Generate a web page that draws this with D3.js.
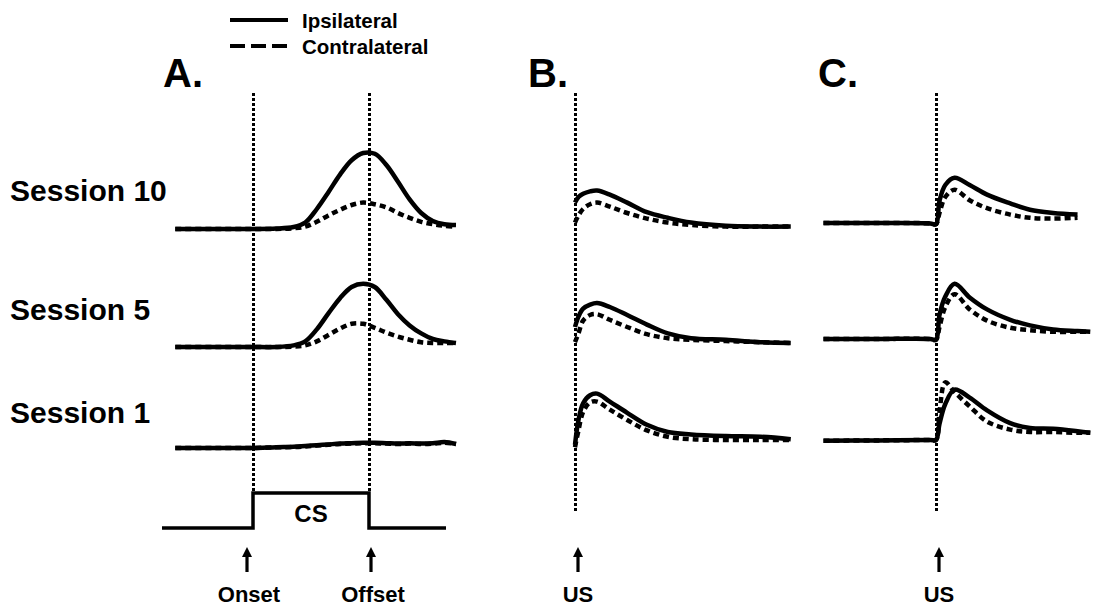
<!DOCTYPE html>
<html><head><meta charset="utf-8">
<script src="https://cdn.jsdelivr.net/npm/d3@7"></script>
<style>
html,body{margin:0;padding:0;background:#fff;}
text{font-family:"Liberation Sans",Arial,sans-serif;font-weight:bold;fill:#000;}
</style></head>
<body>
<svg id="chart" width="1096" height="610"></svg>
<script>
// ---------- data ----------
const sessions = ["Session 10", "Session 5", "Session 1"];
const seriesNames = ["Ipsilateral", "Contralateral"];
const panelLabels = ["A.", "B.", "C."];

// Panel A : time relative to CS (0 = onset, 1 = offset)
const tA = [-0.67, -0.4, -0.2, 0, 0.2, 0.35, 0.45, 0.55, 0.65, 0.75, 0.85, 0.95, 1.05, 1.15, 1.25, 1.35, 1.45, 1.55, 1.65, 1.75];
const aIpsi10   = [0,0,0,0,0.005,0.025,0.08,0.25,0.46,0.68,0.86,0.95,0.94,0.80,0.59,0.37,0.20,0.10,0.06,0.05];
const aContra10 = [0,0,0,0,0,0.01,0.03,0.09,0.17,0.24,0.30,0.33,0.31,0.27,0.20,0.14,0.09,0.06,0.04,0.03];
const aIpsi5    = [0,0,0,0,0,0.02,0.07,0.22,0.42,0.61,0.75,0.79,0.75,0.59,0.41,0.27,0.17,0.10,0.07,0.05];
const aContra5  = [0,0,0,0,0,0.005,0.02,0.07,0.15,0.23,0.29,0.29,0.24,0.18,0.13,0.09,0.06,0.05,0.05,0.05];
const aIpsi1    = [0,0,0,0,0.01,0.015,0.025,0.035,0.045,0.055,0.06,0.065,0.065,0.06,0.055,0.06,0.055,0.06,0.075,0.05];
const aContra1  = [0,0,0,0,0.008,0.012,0.02,0.03,0.04,0.05,0.055,0.06,0.06,0.055,0.05,0.055,0.05,0.055,0.065,0.05];

// Panel B : time relative to US
const tB = [0, 0.03, 0.07, 0.13, 0.19, 0.3, 0.45, 0.62, 0.8, 1.0, 1.3, 1.6, 1.86];
const bIpsi10   = [0.33,0.40,0.44,0.47,0.48,0.43,0.33,0.21,0.14,0.08,0.04,0.03,0.03];
const bContra10 = [0.08,0.17,0.25,0.31,0.33,0.28,0.20,0.13,0.08,0.05,0.03,0.03,0.03];
const bIpsi5    = [0.25,0.38,0.48,0.53,0.55,0.50,0.40,0.28,0.17,0.11,0.09,0.06,0.05];
const bContra5  = [0.06,0.17,0.33,0.40,0.41,0.34,0.25,0.16,0.11,0.09,0.075,0.06,0.05];
const bIpsi1    = [0.04,0.35,0.56,0.66,0.68,0.58,0.44,0.29,0.20,0.17,0.15,0.14,0.11];
const bContra1  = [0.01,0.22,0.45,0.57,0.58,0.48,0.35,0.22,0.14,0.11,0.10,0.10,0.10];

// Panel C : time relative to US
const tC = [-0.97, -0.5, -0.05, 0, 0.03, 0.08, 0.16, 0.29, 0.44, 0.64, 0.81, 1.01, 1.22, 1.33];
const cIpsi10   = [0.075,0.075,0.07,0.06,0.35,0.55,0.64,0.55,0.43,0.32,0.24,0.20,0.18,null];
const cContra10 = [0.075,0.075,0.07,0.06,0.20,0.40,0.49,0.36,0.26,0.18,0.14,0.13,0.14,null];
const cIpsi5    = [0.10,0.10,0.10,0.09,0.40,0.63,0.79,0.62,0.47,0.34,0.27,0.22,0.20,0.19];
const cContra5  = [0.10,0.10,0.10,0.09,0.25,0.50,0.66,0.47,0.33,0.24,0.21,0.19,0.19,0.19];
const cIpsi1    = [0.09,0.095,0.10,0.10,0.30,0.55,0.73,0.63,0.47,0.31,0.25,0.24,0.21,0.19];
const cContra1  = [0.09,0.095,0.10,0.10,0.45,0.82,0.70,0.52,0.33,0.23,0.20,0.20,0.19,0.19];

// event markers (time units of each panel)
const csEvents = [0, 1];          // onset, offset
const eventLabelsA = ["Onset", "Offset"];
const usEvent = 0;

// ---------- layout ----------
const svg = d3.select("#chart");
const xA = d3.scaleLinear().domain([0, 1]).range([253, 369]);
const xB = d3.scaleLinear().domain([0, 1]).range([575, 691]);
const xC = d3.scaleLinear().domain([0, 1]).range([936, 1052]);
const rowY = d3.scaleOrdinal().domain(sessions).range([229, 347, 448]);
const amp = d3.scaleLinear().domain([0, 1]).range([0, -80]);

const panels = [
  {x: xA, t: tA, data: {"Session 10": [aIpsi10, aContra10], "Session 5": [aIpsi5, aContra5], "Session 1": [aIpsi1, aContra1]}},
  {x: xB, t: tB, data: {"Session 10": [bIpsi10, bContra10], "Session 5": [bIpsi5, bContra5], "Session 1": [bIpsi1, bContra1]}},
  {x: xC, t: tC, data: {"Session 10": [cIpsi10, cContra10], "Session 5": [cIpsi5, cContra5], "Session 1": [cIpsi1, cContra1]}}
];

// dotted event lines
function dotted(x, y1, y2) {
  svg.append("line").attr("x1", x + 0.5).attr("x2", x + 0.5).attr("y1", y1).attr("y2", y2)
    .attr("stroke", "#000").attr("stroke-width", 3).attr("stroke-dasharray", "3,2");
}
csEvents.forEach(e => dotted(xA(e), 93, 493));
dotted(xB(usEvent), 93, 512);
dotted(xC(usEvent), 93, 512);

// traces
panels.forEach(p => {
  sessions.forEach(s => {
    const [ipsi, contra] = p.data[s];
    const base = rowY(s);
    const mk = vals => p.t.map((t, i) => ({t, v: vals[i]}));
    const line = d3.line()
      .defined(d => d.v !== null)
      .x(d => p.x(d.t)).y(d => base + amp(d.v))
      .curve(d3.curveCatmullRom.alpha(0.5));
    svg.append("path").attr("d", line(mk(contra)))
      .attr("fill", "none").attr("stroke", "#000").attr("stroke-width", 4.5)
      .attr("stroke-dasharray", "6,4");
    svg.append("path").attr("d", line(mk(ipsi)))
      .attr("fill", "none").attr("stroke", "#000").attr("stroke-width", 4.5)
      .attr("stroke-linejoin", "round");
  });
});

// session labels
sessions.forEach((s, i) => {
  svg.append("text").attr("x", 10).attr("y", [201, 320, 423][i])
    .attr("font-size", 30).text(s);
});

// panel labels
[163, 528, 818].forEach((x, i) => {
  svg.append("text").attr("x", x).attr("y", 87).attr("font-size", 40).text(panelLabels[i]);
});

// legend
svg.append("line").attr("x1", 230).attr("x2", 288).attr("y1", 20).attr("y2", 20)
  .attr("stroke", "#000").attr("stroke-width", 4);
svg.append("line").attr("x1", 230).attr("x2", 288).attr("y1", 46).attr("y2", 46)
  .attr("stroke", "#000").attr("stroke-width", 4).attr("stroke-dasharray", "15,6");
svg.append("text").attr("x", 302).attr("y", 28).attr("font-size", 20.5).text(seriesNames[0]);
svg.append("text").attr("x", 302).attr("y", 54).attr("font-size", 20.5).text(seriesNames[1]);

// CS box and baseline
svg.append("path")
  .attr("d", `M162,528 H${xA(csEvents[0])} V493 H${xA(csEvents[1])} V528 H446`)
  .attr("fill", "none").attr("stroke", "#000").attr("stroke-width", 3.5);
svg.append("text").attr("x", (xA(0) + xA(1)) / 2).attr("y", 522).attr("text-anchor", "middle")
  .attr("font-size", 24).text("CS");

// arrows
function arrow(x) {
  svg.append("line").attr("x1", x).attr("x2", x).attr("y1", 572).attr("y2", 554)
    .attr("stroke", "#000").attr("stroke-width", 3.2);
  svg.append("path").attr("d", `M${x - 5},557 L${x},547 L${x + 5},557 Z`).attr("fill", "#000");
}
function label(x, txt) {
  svg.append("text").attr("x", x).attr("y", 602).attr("text-anchor", "middle")
    .attr("font-size", 22).text(txt);
}
arrow(xA(csEvents[0]) - 6); label(xA(csEvents[0]) - 4, eventLabelsA[0]);
arrow(xA(csEvents[1]) + 2); label(xA(csEvents[1]) + 4, eventLabelsA[1]);
arrow(xB(usEvent) + 3); label(xB(usEvent) + 3, "US");
arrow(xC(usEvent) + 3); label(xC(usEvent) + 3, "US");
</script>
</body></html>
